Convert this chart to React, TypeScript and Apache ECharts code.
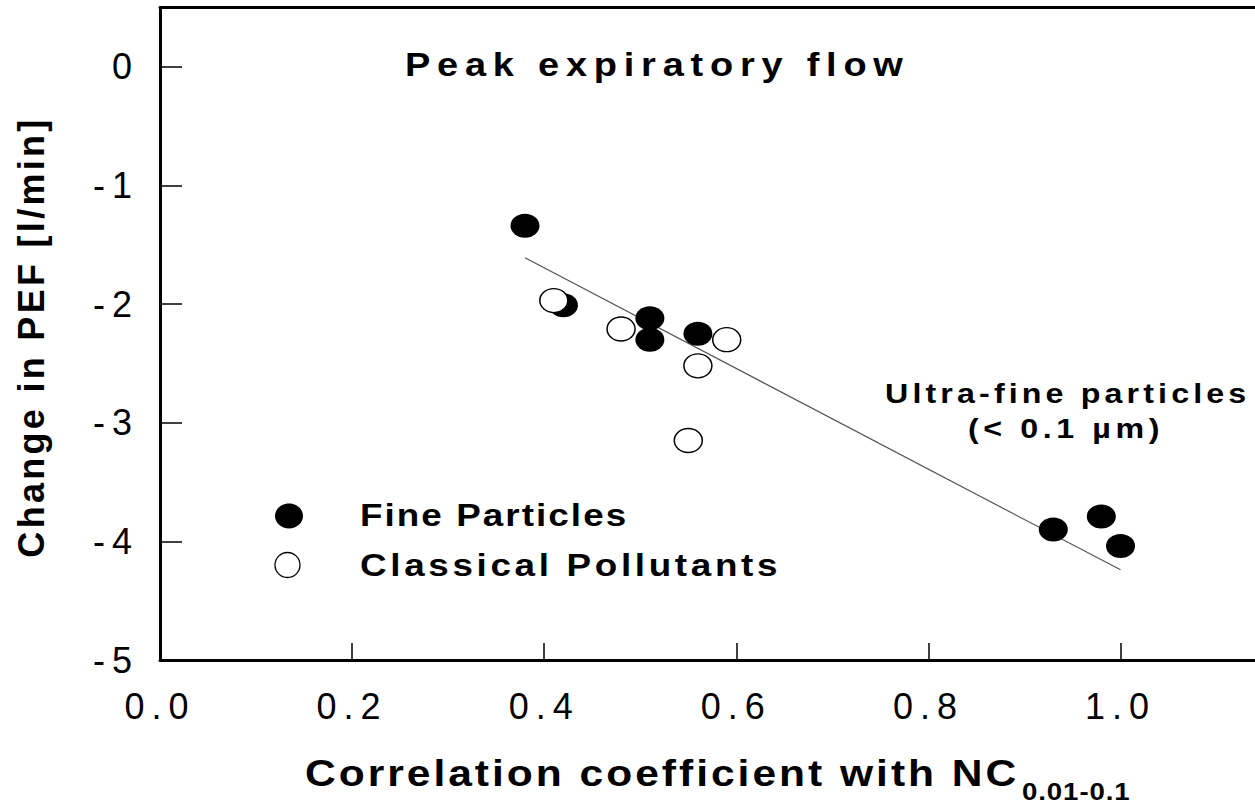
import React, { useEffect, useRef } from "react";
import * as echarts from "echarts";

const TITLE = "Peak expiratory flow";
const X_NAME = "Correlation coefficient with NC";
const X_NAME_SUB = "0.01-0.1";
const Y_NAME = "Change in PEF [l/min]";
const ANNOT_LINE1 = "Ultra-fine particles";
const ANNOT_LINE2 = "(< 0.1 µm)";
const SERIES_FINE = "Fine Particles";
const SERIES_CLASSICAL = "Classical Pollutants";

const fineX = [0.38, 0.42, 0.51, 0.51, 0.56, 0.93, 0.98, 1.0];
const fineY = [-1.34, -2.01, -2.12, -2.3, -2.25, -3.9, -3.79, -4.04];
const classicalX = [0.41, 0.48, 0.59, 0.56, 0.55];
const classicalY = [-1.97, -2.21, -2.3, -2.52, -3.15];
const fitX = [0.38, 1.0];
const fitY = [-1.61, -4.24];
const xTicks = [0, 0.2, 0.4, 0.6, 0.8, 1.0];
const yTicks = [-5, -4, -3, -2, -1, 0];

const FONT = '"Liberation Sans", Arial, Helvetica, sans-serif';
const ELLIPSE = "path://M0,12A14,12,0,1,1,28,12A14,12,0,1,1,0,12Z";

const SPACING: Record<string, number> = {
  [TITLE]: 5.9,
  [X_NAME]: 2.6,
  [X_NAME_SUB]: 0.8,
  [Y_NAME]: 3.3,
  [ANNOT_LINE1]: 3.6,
  [ANNOT_LINE2]: 4,
  [SERIES_FINE]: 1.8,
  [SERIES_CLASSICAL]: 3.2,
};

function applySpacing(root: HTMLElement) {
  root.querySelectorAll("text").forEach((t) => {
    const s = (t.textContent || "").trim();
    let v = SPACING[s];
    if (v === undefined && /^-?[0-9.]+$/.test(s)) v = 7;
    if (v !== undefined) t.setAttribute("letter-spacing", String(v));
  });
}

export default function App() {
  const ref = useRef<HTMLDivElement>(null);
  useEffect(() => {
    document.body.style.margin = "0";
    const el = ref.current!;
    const chart = echarts.init(el, undefined, { renderer: "svg" });
    const textStyle = (size: number, bold = true) =>
      `${bold ? "bold " : ""}${size}px ${FONT}`;
    chart.setOption({
      animation: false,
      backgroundColor: "#fff",
      grid: { left: 160, right: 0, top: 7.5, bottom: 144 },
      xAxis: [
        {
          type: "value",
          min: 0,
          max: 1.14,
          interval: 0.2,
          position: "bottom",
          axisLine: { show: true, onZero: false, lineStyle: { color: "#000", width: 3 } },
          axisTick: {
            show: true,
            inside: true,
            length: 17,
            customValues: xTicks,
            lineStyle: { color: "#000", width: 1.5 },
          },
          axisLabel: {
            show: true,
            customValues: xTicks,
            formatter: (v: number) => v.toFixed(1),
            color: "#000",
            fontSize: 36,
            fontFamily: FONT,
            margin: 28,
          },
          splitLine: { show: false },
        },
        {
          type: "value",
          min: 0,
          max: 1.14,
          position: "top",
          axisLine: { show: true, onZero: false, lineStyle: { color: "#000", width: 3 } },
          axisTick: { show: false },
          axisLabel: { show: false },
          splitLine: { show: false },
        },
      ],
      yAxis: {
        type: "value",
        min: -5,
        max: 0.5,
        interval: 1,
        axisLine: { show: true, onZero: false, lineStyle: { color: "#000", width: 3 } },
        axisTick: {
          show: true,
          inside: true,
          length: 22,
          customValues: yTicks,
          lineStyle: { color: "#000", width: 1.5 },
        },
        axisLabel: {
          show: true,
          customValues: yTicks,
          color: "#000",
          fontSize: 36,
          fontFamily: FONT,
          margin: 21,
        },
        splitLine: { show: false },
      },
      series: [
        {
          type: "line",
          data: fitX.map((x, i) => [x, fitY[i]]),
          symbol: "none",
          lineStyle: { color: "#555", width: 1.2 },
          silent: true,
          z: 1,
        },
        {
          type: "scatter",
          name: SERIES_FINE,
          data: fineX.map((x, i) => [x, fineY[i]]),
          symbol: ELLIPSE,
          symbolSize: [29, 24],
          itemStyle: { color: "#000", opacity: 1 },
          silent: true,
          z: 2,
        },
        {
          type: "scatter",
          name: SERIES_CLASSICAL,
          data: classicalX.map((x, i) => [x, classicalY[i]]),
          symbol: ELLIPSE,
          symbolSize: [28, 24],
          itemStyle: { color: "#fff", borderColor: "#000", borderWidth: 1.4, opacity: 1 },
          silent: true,
          z: 3,
        },
      ],
      graphic: [
        {
          type: "text",
          x: 405,
          y: 65,
          scaleX: 1.15,
          silent: true,
          style: { text: TITLE, font: textStyle(33), fill: "#000", textAlign: "left", textVerticalAlign: "middle" },
        },
        {
          type: "text",
          x: 885,
          y: 393,
          scaleX: 1.15,
          silent: true,
          style: { text: ANNOT_LINE1, font: textStyle(28), fill: "#000", textAlign: "left", textVerticalAlign: "middle" },
        },
        {
          type: "text",
          x: 968,
          y: 428,
          scaleX: 1.15,
          silent: true,
          style: { text: ANNOT_LINE2, font: textStyle(28), fill: "#000", textAlign: "left", textVerticalAlign: "middle" },
        },
        {
          type: "ellipse",
          silent: true,
          shape: { cx: 289, cy: 516, rx: 14, ry: 12.5 },
          style: { fill: "#000" },
        },
        {
          type: "ellipse",
          silent: true,
          shape: { cx: 287.5, cy: 565, rx: 12.5, ry: 12.5 },
          style: { fill: "#fff", stroke: "#000", lineWidth: 1.3 },
        },
        {
          type: "text",
          x: 360,
          y: 515,
          scaleX: 1.15,
          silent: true,
          style: { text: SERIES_FINE, font: textStyle(32), fill: "#000", textAlign: "left", textVerticalAlign: "middle" },
        },
        {
          type: "text",
          x: 360,
          y: 565,
          scaleX: 1.15,
          silent: true,
          style: { text: SERIES_CLASSICAL, font: textStyle(32), fill: "#000", textAlign: "left", textVerticalAlign: "middle" },
        },
        {
          type: "text",
          x: 305,
          y: 773,
          scaleX: 1.15,
          silent: true,
          style: { text: X_NAME, font: textStyle(37), fill: "#000", textAlign: "left", textVerticalAlign: "middle" },
        },
        {
          type: "text",
          x: 1022,
          y: 792,
          scaleX: 1.15,
          silent: true,
          style: { text: X_NAME_SUB, font: textStyle(24), fill: "#000", textAlign: "left", textVerticalAlign: "middle" },
        },
        {
          type: "text",
          x: 31,
          y: 337,
          rotation: Math.PI / 2,
          silent: true,
          style: { text: Y_NAME, font: textStyle(36), fill: "#000", textAlign: "center", textVerticalAlign: "middle" },
        },
      ],
    });
    applySpacing(el);
    const onFinished = () => applySpacing(el);
    chart.on("finished", onFinished);
    const timer = setTimeout(() => applySpacing(el), 50);
    return () => {
      clearTimeout(timer);
      chart.off("finished", onFinished);
      chart.dispose();
    };
  }, []);
  return <div ref={ref} style={{ width: 1255, height: 804 }} />;
}
